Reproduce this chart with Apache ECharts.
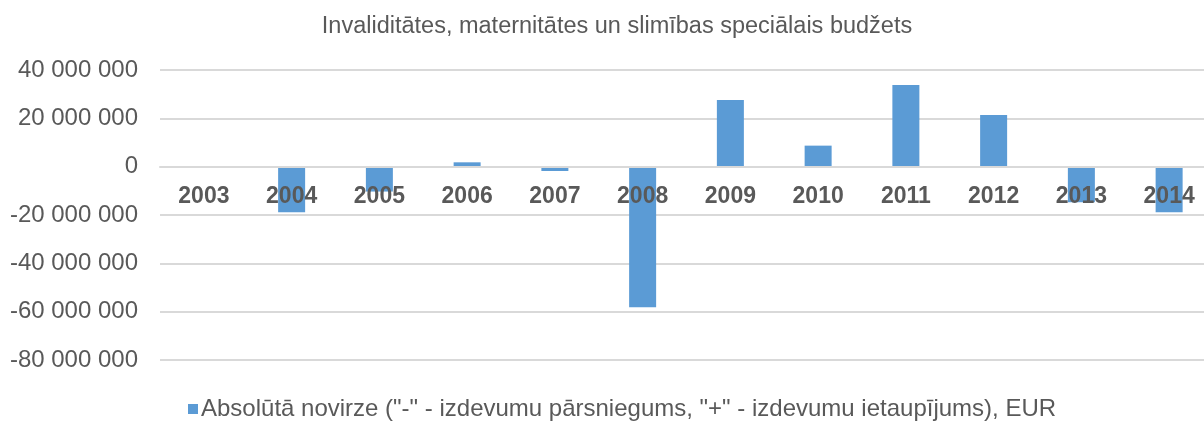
<!DOCTYPE html>
<html>
<head>
<meta charset="utf-8">
<script src="https://cdn.jsdelivr.net/npm/echarts@6/dist/echarts.min.js"></script>
<style>
  html, body { margin: 0; padding: 0; background: #fff; overflow: hidden; }
  #chart { width: 1213px; height: 423px; }
</style>
</head>
<body>
<div id="chart"></div>
<script>
const gadi = ['2003', '2004', '2005', '2006', '2007', '2008', '2009', '2010', '2011', '2012', '2013', '2014']
const novirze = [0, -18900000, -10300000, 1800000, -1800000, -58200000, 27600000, 8700000, 33800000, 21400000, -14700000, -18900000]
const serijasNosaukums = 'Absolūtā novirze ("-" - izdevumu pārsniegums, "+" - izdevumu ietaupījums), EUR'
const virsraksts = 'Invaliditātes, maternitātes un slimības speciālais budžets'

const teksts = '#595959'
const fonts = '"Liberation Sans", Arial, sans-serif'

function formatSkaitli(v) {
  const neg = v < 0
  const s = String(Math.abs(v)).replace(/\B(?=(\d{3})+(?!\d))/g, ' ')
  return (neg ? '-' : '') + s
}

// chart is a bit wider than the window, the last column is cut like in the original
const myChart = echarts.init(document.getElementById('chart'))
myChart.setOption({
  animation: false,
  title: {
    text: virsraksts,
    left: 612,
    top: 10,
    textAlign: 'center',
    textStyle: { color: teksts, fontFamily: fonts, fontSize: 23.5, fontWeight: 'normal' },
  },
  grid: { left: 160, right: 0, top: 70, bottom: 63 },
  legend: {
    top: 392,
    left: 183,
    itemWidth: 10,
    itemHeight: 10,
    itemGap: 4,
    textStyle: { color: teksts, fontFamily: fonts, fontSize: 24, padding: [0, 0, 0, -2] },
    data: [{ name: serijasNosaukums, icon: 'rect' }],
  },
  xAxis: {
    type: 'category',
    data: gadi,
    z: 10,
    offset: -193,
    axisLine: { onZero: false, lineStyle: { color: '#d9d9d9', width: 2 } },
    axisTick: { show: false },
    axisLabel: { color: teksts, fontFamily: fonts, fontSize: 23, fontWeight: 'bold', margin: 18 },
  },
  yAxis: {
    type: 'value',
    min: -80000000,
    max: 40000000,
    interval: 20000000,
    axisLine: { show: false },
    axisTick: { show: false },
    splitLine: { lineStyle: { color: '#d9d9d9', width: 2 } },
    axisLabel: {
      color: teksts,
      fontFamily: fonts,
      fontSize: 24,
      margin: 22,
      formatter: formatSkaitli,
    },
  },
  series: [
    {
      name: serijasNosaukums,
      type: 'bar',
      data: novirze,
      barWidth: 27,
      itemStyle: { color: '#5b9bd5' },
    },
  ],
})
</script>
</body>
</html>
